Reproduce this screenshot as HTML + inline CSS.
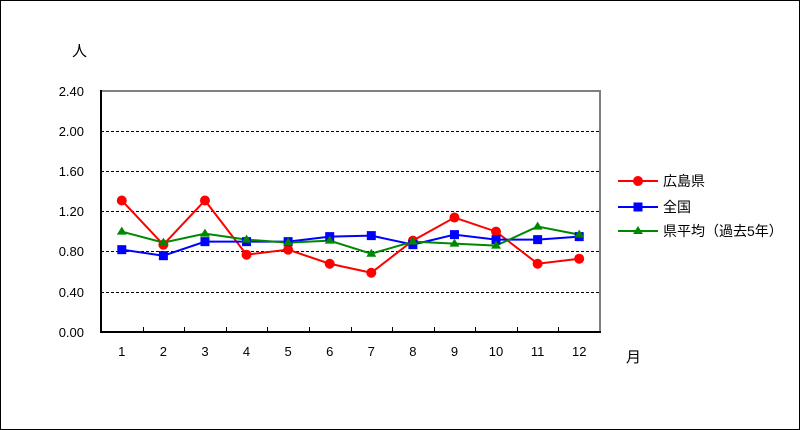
<!DOCTYPE html>
<html><head><meta charset="utf-8"><style>
html,body{margin:0;padding:0;background:#fff}
svg{display:block}
text{font-family:"Liberation Sans","Noto Sans CJK JP",sans-serif;font-size:13px;fill:#000}
.lg{font-size:14px}
</style></head><body>
<svg id="s" width="800" height="430" xmlns="http://www.w3.org/2000/svg">
<rect x="0.5" y="0.5" width="799" height="429" fill="#fff" stroke="#000"/>
<g stroke="#000" stroke-width="1" stroke-dasharray="3,2">
<line x1="101" y1="131.5" x2="600" y2="131.5"/>
<line x1="101" y1="171.5" x2="600" y2="171.5"/>
<line x1="101" y1="211.5" x2="600" y2="211.5"/>
<line x1="101" y1="251.5" x2="600" y2="251.5"/>
<line x1="101" y1="292.5" x2="600" y2="292.5"/>
</g>
<line x1="101" y1="91" x2="601" y2="91" stroke="#808080" stroke-width="2"/>
<line x1="600" y1="91" x2="600" y2="333" stroke="#808080" stroke-width="2"/>
<line x1="101" y1="90" x2="101" y2="333" stroke="#000" stroke-width="2"/>
<line x1="100" y1="332" x2="601" y2="332" stroke="#000" stroke-width="2"/>
<g id="ticks" stroke="#000"></g>
<g text-anchor="end">
<text x="84" y="96">2.40</text><text x="84" y="136">2.00</text><text x="84" y="176">1.60</text>
<text x="84" y="216">1.20</text><text x="84" y="256">0.80</text><text x="84" y="297">0.40</text>
<text x="84" y="337">0.00</text>
</g>
<text x="72" y="56" style="font-size:15px">人</text>
<text x="626" y="362" style="font-size:15px">月</text>
<g id="xl" text-anchor="middle"></g>
<g id="series"></g>
<g>
<line x1="618" y1="181" x2="658" y2="181" stroke="#f00" stroke-width="2"/><circle cx="638" cy="181" r="5" fill="#f00"/>
<text class="lg" x="663" y="186">広島県</text>
<line x1="618" y1="207" x2="658" y2="207" stroke="#00f" stroke-width="2"/><rect x="633.5" y="202.5" width="9" height="9" fill="#00f"/>
<text class="lg" x="663" y="212">全国</text>
<line x1="618" y1="231" x2="658" y2="231" stroke="#080" stroke-width="2"/><polygon points="638,226 643,234 633,234" fill="#080"/>
<text class="lg" x="663" y="236">県平均（過去5年）</text>
</g>
</svg>
<script>
var ns="http://www.w3.org/2000/svg",s=document.getElementById('s');
function el(t,a,p){var e=document.createElementNS(ns,t);for(var k in a)e.setAttribute(k,a[k]);(p||s).appendChild(e);return e;}
var w=499/12,X=function(i){return 101+w*(i+0.5)},Y=function(v){return 332-v*100.4};
var tk=document.getElementById('ticks'),xl=document.getElementById('xl'),sr=document.getElementById('series');
for(var i=1;i<12;i++){var x=Math.round(101+w*i)+0.5;el('line',{x1:x,y1:327,x2:x,y2:332},tk);}
for(var i=0;i<12;i++){var t=el('text',{x:X(i),y:356},xl);t.textContent=i+1;}
var R=[1.31,0.87,1.31,0.77,0.82,0.68,0.59,0.91,1.14,1.00,0.68,0.73],
B=[0.82,0.76,0.90,0.90,0.90,0.95,0.96,0.87,0.97,0.92,0.92,0.95],
G=[1.00,0.89,0.98,0.92,0.89,0.91,0.78,0.90,0.88,0.86,1.05,0.97];
function line(d,c){el('polyline',{points:d.map(function(v,i){return X(i)+','+Y(v)}).join(' '),fill:'none',stroke:c,'stroke-width':2},sr);}
line(R,'#f00');line(B,'#00f');line(G,'#080');
R.forEach(function(v,i){el('circle',{cx:X(i),cy:Y(v),r:5,fill:'#f00'},sr)});
B.forEach(function(v,i){el('rect',{x:X(i)-4.5,y:Y(v)-4.5,width:9,height:9,fill:'#00f'},sr)});
G.forEach(function(v,i){var x=X(i),y=Y(v);el('polygon',{points:x+','+(y-5)+' '+(x+5)+','+(y+3)+' '+(x-5)+','+(y+3),fill:'#080'},sr)});
</script>
</body></html>
